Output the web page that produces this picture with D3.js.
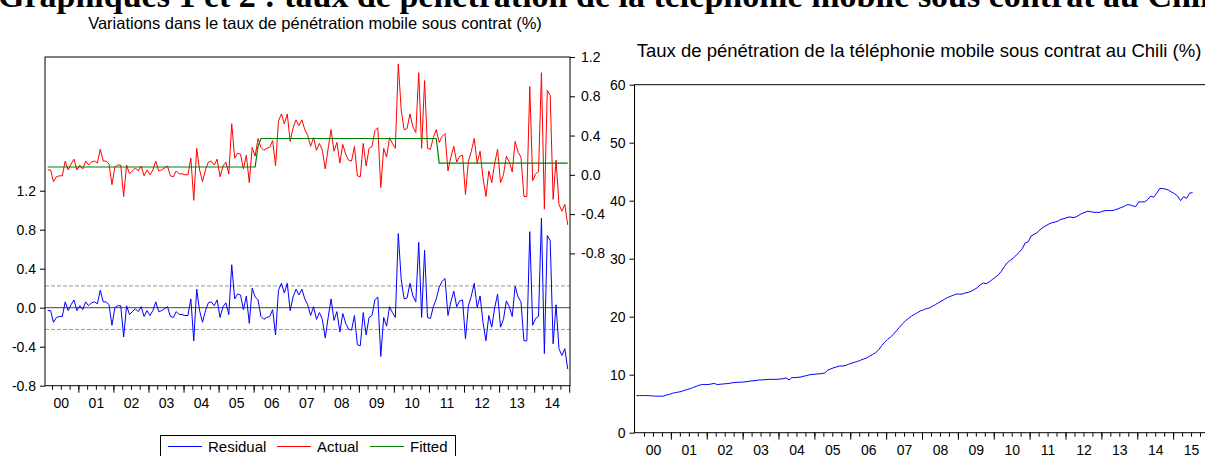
<!DOCTYPE html>
<html>
<head>
<meta charset="utf-8">
<script src="https://cdn.jsdelivr.net/npm/d3@7"></script>
<style>
  body { margin: 0; background: #fff; }
  svg text { font-family: "Liberation Sans", Arial, sans-serif; fill: #000; }
</style>
</head>
<body>
<div id="chart"></div>
<script>
(function() {
  var width = 1205,
      height = 456;

  // ---- data (monthly, Feb 2000 .. Dec 2014) ----
  var residual = [
    -0.03,-0.03,-0.15,-0.10,-0.09,-0.09,0.06,-0.03,0.03,0.08,-0.03,0.02,
    -0.02,0.06,0.02,0.05,0.06,0.04,0.18,0.06,0.06,0.03,-0.18,0.00,
    0.02,0.02,-0.30,0.02,-0.07,-0.04,-0.01,-0.04,0.01,-0.09,-0.03,-0.08,
    -0.03,0.06,-0.04,-0.03,-0.01,0.01,-0.09,-0.10,-0.04,-0.07,-0.07,-0.08,
    -0.08,0.09,-0.34,0.19,-0.03,-0.15,-0.03,0.05,0.06,0.02,0.08,-0.10,
    0.01,0.05,-0.07,0.44,0.09,0.14,0.13,-0.02,0.12,-0.16,0.20,0.11,
    0.08,-0.09,-0.12,-0.10,-0.09,-0.02,-0.28,0.18,0.25,0.15,0.25,-0.03,
    0.11,0.19,0.13,0.19,0.09,0.03,-0.08,0.01,-0.12,-0.05,-0.12,-0.31,
    -0.10,0.09,-0.13,-0.04,-0.25,-0.06,-0.16,-0.22,-0.23,-0.08,-0.38,-0.39,
    -0.05,-0.28,-0.10,-0.08,0.08,0.11,-0.50,-0.10,-0.19,0.01,-0.05,-0.10,
    0.76,0.29,0.09,0.10,0.25,0.12,0.06,0.67,-0.10,0.59,-0.10,-0.11,
    0.01,0.09,0.21,0.27,0.30,-0.08,0.06,0.17,0.01,0.07,0.08,-0.32,
    0.02,0.12,0.25,0.00,0.12,-0.15,-0.34,-0.08,-0.20,0.00,0.14,-0.20,
    -0.12,0.07,0.01,-0.09,0.22,0.11,0.06,-0.34,-0.34,0.78,-0.18,-0.11,
    -0.09,0.92,-0.47,0.74,0.69,-0.37,0.03,-0.42,-0.49,-0.42,-0.63
  ];

  var actual = [
    0.05,0.05,-0.07,-0.02,-0.01,-0.01,0.14,0.05,0.11,0.16,0.05,0.10,
    0.06,0.14,0.10,0.13,0.14,0.12,0.26,0.14,0.14,0.11,-0.10,0.08,
    0.10,0.10,-0.22,0.10,0.01,0.04,0.07,0.04,0.09,-0.01,0.05,0.00,
    0.05,0.14,0.04,0.05,0.07,0.09,-0.01,-0.02,0.04,0.01,0.01,0.00,
    0.00,0.17,-0.26,0.27,0.05,-0.07,0.05,0.13,0.14,0.10,0.16,-0.02,
    0.09,0.13,0.01,0.52,0.17,0.22,0.21,0.06,0.20,-0.08,0.28,0.19,
    0.37,0.28,0.25,0.27,0.28,0.35,0.09,0.55,0.62,0.52,0.62,0.34,
    0.48,0.56,0.50,0.56,0.46,0.40,0.29,0.38,0.25,0.32,0.25,0.06,
    0.27,0.46,0.24,0.33,0.12,0.31,0.21,0.15,0.14,0.29,-0.01,-0.02,
    0.32,0.09,0.27,0.29,0.45,0.48,-0.13,0.27,0.18,0.38,0.32,0.27,
    1.13,0.66,0.46,0.47,0.62,0.49,0.43,1.04,0.27,0.96,0.27,0.26,
    0.38,0.46,0.33,0.39,0.42,0.04,0.18,0.29,0.13,0.19,0.20,-0.20,
    0.14,0.24,0.37,0.12,0.24,-0.03,-0.22,0.04,-0.08,0.12,0.26,-0.08,
    0.00,0.19,0.13,0.03,0.34,0.23,0.18,-0.22,-0.22,0.90,-0.06,0.01,
    0.03,1.04,-0.35,0.86,0.81,-0.25,0.15,-0.30,-0.37,-0.30,-0.51
  ];

  // fitted value: [first month, last month, level] (month 1 = Feb 2000)
  var fittedSegments = [
    [1, 72, 0.08],
    [73, 73, 0.29],
    [74, 134, 0.37],
    [135, 179, 0.12]
  ];

  var residualSE = 0.223;

  // monthly, Jan 2000 .. Jul 2015
  var penetration = [
    6.4,6.4,6.4,6.4,6.4,6.35,6.3,6.3,6.3,6.3,6.5,6.6,
    6.8,6.9,7.0,7.1,7.3,7.45,7.6,7.8,8.0,8.2,8.3,8.3,
    8.3,8.4,8.5,8.3,8.35,8.4,8.45,8.5,8.6,8.65,8.7,8.7,
    8.75,8.8,8.9,8.95,9.0,9.1,9.1,9.15,9.2,9.2,9.2,9.2,
    9.25,9.3,9.45,9.1,9.5,9.5,9.55,9.6,9.75,9.85,10.0,10.05,
    10.1,10.15,10.2,10.3,10.8,11.0,11.2,11.35,11.5,11.5,11.6,11.8,
    12.0,12.15,12.3,12.5,12.7,12.9,13.2,13.5,13.8,14.3,15.0,15.6,
    16.1,16.5,17.0,17.6,18.2,18.8,19.3,19.7,20.1,20.4,20.7,21.0,
    21.2,21.4,21.5,21.8,22.1,22.4,22.7,23.0,23.3,23.5,23.7,23.9,
    23.9,23.9,24.1,24.2,24.4,24.7,25.0,25.5,25.8,25.7,26.0,26.4,
    26.8,27.2,27.8,28.6,29.3,29.7,30.1,30.6,31.1,31.7,32.7,32.9,
    33.9,34.2,34.5,35.0,35.4,35.7,36.0,36.2,36.3,36.5,36.8,36.9,
    37.1,37.2,37.1,37.2,37.5,37.8,38.0,38.2,38.1,38.0,38.0,38.0,
    38.2,38.3,38.3,38.3,38.4,38.6,38.8,39.0,39.3,39.3,39.1,39.0,
    39.8,39.8,39.8,40.2,40.8,40.6,41.3,42.1,42.1,42.0,41.8,41.5,
    41.2,40.8,40.0,40.7,40.4,41.3,41.4
  ];

  var yearsLeft = ["00","01","02","03","04","05","06","07","08","09","10","11","12","13","14"];
  var yearsRight = ["00","01","02","03","04","05","06","07","08","09","10","11","12","13","14","15"];
  var varTicks = [-0.8, -0.4, 0, 0.4, 0.8, 1.2];
  var penTicks = [0, 10, 20, 30, 40, 50, 60];
  var legendItems = ["Residual", "Actual", "Fitted"];
  var legendColors = ["#0000ff", "#ff0000", "#008000"];

  var fitted = [];
  fittedSegments.forEach(function(s) {
    for (var m = s[0]; m <= s[1]; m++) fitted.push(s[2]);
  });

  var svg = d3.select("#chart")
    .append("svg")
    .attr("width", width)
    .attr("height", height);

  svg.append("rect").attr("width", width).attr("height", height).attr("fill", "#fff");

  // heading, cut off at the very top as in the source
  svg.append("text")
    .attr("x", -2)
    .attr("y", 7)
    .style("font-family", "'Liberation Serif', 'Times New Roman', serif")
    .style("font-weight", "bold")
    .style("font-size", "34px")
    .text("Graphiques 1 et 2 : taux de pénétration de la téléphonie mobile sous contrat au Chili");

  // ================= left chart =================
  var xL = d3.scaleLinear().domain([-0.5, 179.5]).range([43.3, 569.2]);
  var yRes = d3.scaleLinear().domain([-0.8, 1.2]).range([385.7, 190.7]);
  var yAct = d3.scaleLinear().domain([-0.8, 1.2]).range([253.4, 57]);

  var left = svg.append("g");

  left.append("text")
    .attr("x", 315)
    .attr("y", 29)
    .attr("text-anchor", "middle")
    .style("font-size", "16.5px")
    .text("Variations dans le taux de pénétration mobile sous contrat (%)");

  // std error band + zero line
  [residualSE, -residualSE].forEach(function(v) {
    left.append("line")
      .attr("x1", 45).attr("x2", 570)
      .attr("y1", yRes(v)).attr("y2", yRes(v))
      .attr("stroke", "#999")
      .attr("stroke-dasharray", "4,2");
  });
  left.append("line")
    .attr("x1", 45).attr("x2", 570)
    .attr("y1", yRes(0)).attr("y2", yRes(0))
    .attr("stroke", "#444");

  var lineRes = d3.line().x(function(d, i) { return xL(i + 1); }).y(function(d) { return yRes(d); });
  var lineAct = d3.line().x(function(d, i) { return xL(i + 1); }).y(function(d) { return yAct(d); });

  left.append("path").datum(residual)
    .attr("d", lineRes).attr("fill", "none").attr("stroke", "#0000ff").attr("stroke-width", 1);
  left.append("path").datum(actual)
    .attr("d", lineAct).attr("fill", "none").attr("stroke", "#ff0000").attr("stroke-width", 1);
  left.append("path").datum(fitted)
    .attr("d", lineAct).attr("fill", "none").attr("stroke", "#008000").attr("stroke-width", 1.2);

  left.append("rect")
    .attr("x", 45).attr("y", 57)
    .attr("width", 525).attr("height", yRes(-0.8) - 57)
    .attr("fill", "none").attr("stroke", "#000");

  var fmt1 = function(d) { return d.toFixed(1); };

  left.append("g")
    .attr("transform", "translate(45,0)")
    .call(d3.axisLeft(yRes).tickValues(varTicks).tickSize(5).tickPadding(4).tickFormat(fmt1));
  left.append("g")
    .attr("transform", "translate(570,0)")
    .call(d3.axisRight(yAct).tickValues(varTicks).tickSize(5).tickPadding(6).tickFormat(fmt1));

  // x axis: quarters, years, labels
  var quartersL = d3.range(1, 60).map(function(q) { return q * 3 - 0.5; });
  var yearBoundsL = d3.range(1, 16).map(function(y) { return y * 12 - 0.5; });
  var yearMidsL = yearsLeft.map(function(d, y) { return y * 12 + 5.5; });

  var bottomL = yRes(-0.8);
  left.append("g").attr("transform", "translate(0," + bottomL + ")")
    .call(d3.axisBottom(xL).tickValues(quartersL).tickSize(4).tickFormat(""));
  left.append("g").attr("transform", "translate(0," + bottomL + ")")
    .call(d3.axisBottom(xL).tickValues(yearBoundsL).tickSize(7).tickFormat(""));
  left.append("g").attr("transform", "translate(0," + bottomL + ")")
    .call(d3.axisBottom(xL).tickValues(yearMidsL).tickSize(0).tickPadding(12)
      .tickFormat(function(d, i) { return yearsLeft[i]; }));

  // legend
  var legend = left.append("g");
  legend.append("rect")
    .attr("x", 160.5).attr("y", 435.5)
    .attr("width", 295).attr("height", 30)
    .attr("fill", "#fff").attr("stroke", "#000");
  var legX = [168, 277, 370];
  legendItems.forEach(function(name, i) {
    legend.append("line")
      .attr("x1", legX[i]).attr("x2", legX[i] + 34)
      .attr("y1", 446.5).attr("y2", 446.5)
      .attr("stroke", legendColors[i]);
    legend.append("text")
      .attr("x", legX[i] + 40).attr("y", 452)
      .style("font-size", "15px")
      .text(name);
  });

  // ================= right chart =================
  var xR = d3.scaleLinear().domain([-0.5, 191.5]).range([635, 1209]);
  var yR = d3.scaleLinear().domain([0, 60]).range([432.7, 84.7]);

  var right = svg.append("g");

  right.append("text")
    .attr("x", 919)
    .attr("y", 57)
    .attr("text-anchor", "middle")
    .style("font-size", "18.5px")
    .text("Taux de pénétration de la téléphonie mobile sous contrat au Chili (%)");

  var linePen = d3.line().x(function(d, i) { return xR(i); }).y(function(d) { return yR(d); });
  right.append("path").datum(penetration)
    .attr("d", linePen).attr("fill", "none").attr("stroke", "#0000ff").attr("stroke-width", 1);

  right.append("rect")
    .attr("x", 634.5).attr("y", 84.7)
    .attr("width", 600).attr("height", 432.7 - 84.7)
    .attr("fill", "none").attr("stroke", "#000");

  right.append("g")
    .attr("transform", "translate(634.5,0)")
    .call(d3.axisLeft(yR).tickValues(penTicks).tickSize(5).tickPadding(4).tickFormat(d3.format("d")));

  var quartersR = d3.range(1, 64).map(function(q) { return q * 3 - 0.5; });
  var yearBoundsR = d3.range(1, 16).map(function(y) { return y * 12 - 0.5; });
  var yearMidsR = yearsRight.map(function(d, y) { return y * 12 + 5.5; });

  right.append("g").attr("transform", "translate(0,432.7)")
    .call(d3.axisBottom(xR).tickValues(quartersR).tickSize(4).tickFormat(""));
  right.append("g").attr("transform", "translate(0,432.7)")
    .call(d3.axisBottom(xR).tickValues(yearBoundsR).tickSize(7).tickFormat(""));
  right.append("g").attr("transform", "translate(0,432.7)")
    .call(d3.axisBottom(xR).tickValues(yearMidsR).tickSize(0).tickPadding(12)
      .tickFormat(function(d, i) { return yearsRight[i]; }));

  // common axis styling
  svg.selectAll(".domain").remove();
  svg.selectAll(".tick line").attr("stroke", "#000");
  svg.selectAll(".tick text")
    .style("font-size", "14px")
    .style("font-family", "'Liberation Sans', Arial, sans-serif")
    .attr("fill", "#000");
})();
</script>
</body>
</html>
